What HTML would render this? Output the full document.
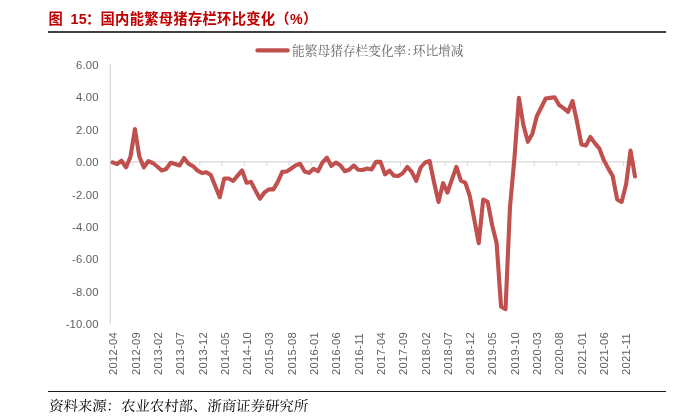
<!DOCTYPE html>
<html lang="zh"><head><meta charset="utf-8"><title>图 15</title>
<style>
html,body{margin:0;padding:0;background:#fff;}
body{width:679px;height:416px;position:relative;overflow:hidden;font-family:"Liberation Sans","Noto Sans CJK SC",sans-serif;}
.title{position:absolute;left:48.5px;top:9px;font-size:14.3px;line-height:20px;font-weight:bold;color:#c00000;white-space:nowrap;word-spacing:2.2px;letter-spacing:0.27px;}
.rule1{position:absolute;left:48px;width:618px;top:31.3px;height:1.5px;background:#404040;}
.rule2{position:absolute;left:48px;width:618px;top:390.8px;height:1.4px;background:#1a1a1a;}
.src{position:absolute;left:48.5px;top:395.5px;font-size:14.4px;line-height:20px;transform:skewX(-4deg);transform-origin:0 60%;color:#000;white-space:nowrap;font-family:"Liberation Serif","Noto Serif CJK SC",serif;}
svg{position:absolute;left:0;top:0;}
.ax{font-family:"Liberation Sans",sans-serif;font-size:11.3px;fill:#606060;}
.lg{font-family:"Liberation Serif","Noto Serif CJK SC",serif;font-size:12.7px;fill:#646464;}
</style></head><body>
<div class="title">图 <span style="margin-left:1px;margin-right:-1px">15</span>：国内能繁母猪存栏环比变化（%）</div>
<div class="rule1"></div>
<svg width="679" height="416" viewBox="0 0 679 416">
<line x1="110.3" y1="64.3" x2="110.3" y2="323.4" stroke="#d9d9d9" stroke-width="1.4"/>
<line x1="110" y1="161.90" x2="636.6" y2="161.90" stroke="#d9d9d9" stroke-width="1.4"/>
<line x1="110.60" y1="161.90" x2="110.60" y2="165.90" stroke="#d9d9d9" stroke-width="1"/>
<line x1="132.90" y1="161.90" x2="132.90" y2="165.90" stroke="#d9d9d9" stroke-width="1"/>
<line x1="155.20" y1="161.90" x2="155.20" y2="165.90" stroke="#d9d9d9" stroke-width="1"/>
<line x1="177.50" y1="161.90" x2="177.50" y2="165.90" stroke="#d9d9d9" stroke-width="1"/>
<line x1="199.80" y1="161.90" x2="199.80" y2="165.90" stroke="#d9d9d9" stroke-width="1"/>
<line x1="222.10" y1="161.90" x2="222.10" y2="165.90" stroke="#d9d9d9" stroke-width="1"/>
<line x1="244.40" y1="161.90" x2="244.40" y2="165.90" stroke="#d9d9d9" stroke-width="1"/>
<line x1="266.70" y1="161.90" x2="266.70" y2="165.90" stroke="#d9d9d9" stroke-width="1"/>
<line x1="289.00" y1="161.90" x2="289.00" y2="165.90" stroke="#d9d9d9" stroke-width="1"/>
<line x1="311.30" y1="161.90" x2="311.30" y2="165.90" stroke="#d9d9d9" stroke-width="1"/>
<line x1="333.60" y1="161.90" x2="333.60" y2="165.90" stroke="#d9d9d9" stroke-width="1"/>
<line x1="355.90" y1="161.90" x2="355.90" y2="165.90" stroke="#d9d9d9" stroke-width="1"/>
<line x1="378.20" y1="161.90" x2="378.20" y2="165.90" stroke="#d9d9d9" stroke-width="1"/>
<line x1="400.50" y1="161.90" x2="400.50" y2="165.90" stroke="#d9d9d9" stroke-width="1"/>
<line x1="422.80" y1="161.90" x2="422.80" y2="165.90" stroke="#d9d9d9" stroke-width="1"/>
<line x1="445.10" y1="161.90" x2="445.10" y2="165.90" stroke="#d9d9d9" stroke-width="1"/>
<line x1="467.40" y1="161.90" x2="467.40" y2="165.90" stroke="#d9d9d9" stroke-width="1"/>
<line x1="489.70" y1="161.90" x2="489.70" y2="165.90" stroke="#d9d9d9" stroke-width="1"/>
<line x1="512.00" y1="161.90" x2="512.00" y2="165.90" stroke="#d9d9d9" stroke-width="1"/>
<line x1="534.30" y1="161.90" x2="534.30" y2="165.90" stroke="#d9d9d9" stroke-width="1"/>
<line x1="556.60" y1="161.90" x2="556.60" y2="165.90" stroke="#d9d9d9" stroke-width="1"/>
<line x1="578.90" y1="161.90" x2="578.90" y2="165.90" stroke="#d9d9d9" stroke-width="1"/>
<line x1="601.20" y1="161.90" x2="601.20" y2="165.90" stroke="#d9d9d9" stroke-width="1"/>
<line x1="623.50" y1="161.90" x2="623.50" y2="165.90" stroke="#d9d9d9" stroke-width="1"/>
<text x="98.6" y="68.70" text-anchor="end" class="ax" letter-spacing="0.15">6.00</text>
<text x="98.6" y="101.16" text-anchor="end" class="ax" letter-spacing="0.15">4.00</text>
<text x="98.6" y="133.62" text-anchor="end" class="ax" letter-spacing="0.15">2.00</text>
<text x="98.6" y="166.08" text-anchor="end" class="ax" letter-spacing="0.15">0.00</text>
<text x="98.6" y="198.54" text-anchor="end" class="ax" letter-spacing="0.15">-2.00</text>
<text x="98.6" y="231.00" text-anchor="end" class="ax" letter-spacing="0.15">-4.00</text>
<text x="98.6" y="263.46" text-anchor="end" class="ax" letter-spacing="0.15">-6.00</text>
<text x="98.6" y="295.92" text-anchor="end" class="ax" letter-spacing="0.15">-8.00</text>
<text x="98.6" y="328.38" text-anchor="end" class="ax" letter-spacing="0.15">-10.00</text>
<text transform="translate(117.30,375) rotate(-90)" class="ax" letter-spacing="0.2">2012-04</text>
<text transform="translate(139.60,375) rotate(-90)" class="ax" letter-spacing="0.2">2012-09</text>
<text transform="translate(161.90,375) rotate(-90)" class="ax" letter-spacing="0.2">2013-02</text>
<text transform="translate(184.20,375) rotate(-90)" class="ax" letter-spacing="0.2">2013-07</text>
<text transform="translate(206.50,375) rotate(-90)" class="ax" letter-spacing="0.2">2013-12</text>
<text transform="translate(228.80,375) rotate(-90)" class="ax" letter-spacing="0.2">2014-05</text>
<text transform="translate(251.10,375) rotate(-90)" class="ax" letter-spacing="0.2">2014-10</text>
<text transform="translate(273.40,375) rotate(-90)" class="ax" letter-spacing="0.2">2015-03</text>
<text transform="translate(295.70,375) rotate(-90)" class="ax" letter-spacing="0.2">2015-08</text>
<text transform="translate(318.00,375) rotate(-90)" class="ax" letter-spacing="0.2">2016-01</text>
<text transform="translate(340.30,375) rotate(-90)" class="ax" letter-spacing="0.2">2016-06</text>
<text transform="translate(362.60,375) rotate(-90)" class="ax" letter-spacing="0.2">2016-11</text>
<text transform="translate(384.90,375) rotate(-90)" class="ax" letter-spacing="0.2">2017-04</text>
<text transform="translate(407.20,375) rotate(-90)" class="ax" letter-spacing="0.2">2017-09</text>
<text transform="translate(429.50,375) rotate(-90)" class="ax" letter-spacing="0.2">2018-02</text>
<text transform="translate(451.80,375) rotate(-90)" class="ax" letter-spacing="0.2">2018-07</text>
<text transform="translate(474.10,375) rotate(-90)" class="ax" letter-spacing="0.2">2018-12</text>
<text transform="translate(496.40,375) rotate(-90)" class="ax" letter-spacing="0.2">2019-05</text>
<text transform="translate(518.70,375) rotate(-90)" class="ax" letter-spacing="0.2">2019-10</text>
<text transform="translate(541.00,375) rotate(-90)" class="ax" letter-spacing="0.2">2020-03</text>
<text transform="translate(563.30,375) rotate(-90)" class="ax" letter-spacing="0.2">2020-08</text>
<text transform="translate(585.60,375) rotate(-90)" class="ax" letter-spacing="0.2">2021-01</text>
<text transform="translate(607.90,375) rotate(-90)" class="ax" letter-spacing="0.2">2021-06</text>
<text transform="translate(630.20,375) rotate(-90)" class="ax" letter-spacing="0.2">2021-11</text>
<polyline points="112.60,162.40 117.06,164.00 121.53,160.75 125.99,167.40 130.46,156.75 134.92,129.10 139.39,156.75 143.85,167.40 148.32,161.10 152.78,163.00 157.25,166.50 161.71,170.50 166.18,169.00 170.64,162.75 175.11,164.00 179.57,165.50 184.04,158.00 188.50,163.80 192.97,166.10 197.44,170.50 201.90,173.10 206.37,172.25 210.83,175.00 215.29,186.25 219.76,197.25 224.22,178.50 228.69,178.50 233.15,181.00 237.62,175.60 242.08,170.40 246.55,182.75 251.01,181.90 255.48,190.60 259.94,198.75 264.41,192.50 268.88,189.40 273.34,189.40 277.80,181.90 282.27,171.90 286.74,171.50 291.20,168.50 295.66,165.40 300.13,163.75 304.60,171.50 309.06,172.90 313.52,168.75 317.99,171.25 322.45,162.50 326.92,157.75 331.38,166.00 335.85,162.50 340.31,165.20 344.78,171.25 349.25,169.75 353.71,165.60 358.17,169.75 362.64,170.00 367.11,168.50 371.57,169.40 376.03,161.90 380.50,161.90 384.97,174.40 389.43,170.60 393.89,175.60 398.36,176.00 402.82,173.10 407.29,166.90 411.75,171.90 416.22,180.80 420.68,167.50 425.15,162.50 429.62,161.00 434.08,182.50 438.54,202.00 443.01,183.10 447.48,192.50 451.94,179.40 456.40,166.90 460.87,180.60 465.34,182.75 469.80,196.10 474.26,219.30 478.73,243.20 483.19,199.50 487.66,201.90 492.12,225.00 496.59,243.00 501.05,306.50 505.52,309.20 509.99,207.00 514.45,158.00 518.91,97.80 523.38,125.00 527.85,141.80 532.31,134.00 536.77,116.25 541.24,107.50 545.70,98.50 550.17,97.90 554.63,97.30 559.10,105.00 563.56,108.10 568.03,112.00 572.50,101.00 576.96,121.50 581.42,144.40 585.89,145.60 590.36,137.00 594.82,143.10 599.28,148.30 603.75,160.00 608.22,168.40 612.68,176.00 617.14,199.40 621.61,202.00 626.08,184.40 630.54,150.50 635.00,176.50" fill="none" stroke="#c0504d" stroke-width="4.1" stroke-linejoin="round" stroke-linecap="round"/>
<line x1="257.4" y1="50.4" x2="287.7" y2="50.4" stroke="#c0504d" stroke-width="4.1" stroke-linecap="round"/>
<text x="292.1" y="54.6" class="lg">能繁母猪存栏变化率<tspan dx="1.3">:</tspan><tspan dx="1.6">环比增减</tspan></text>
</svg>
<div class="rule2"></div>
<div class="src">资料来源：农业农村部、浙商证券研究所</div>
</body></html>
